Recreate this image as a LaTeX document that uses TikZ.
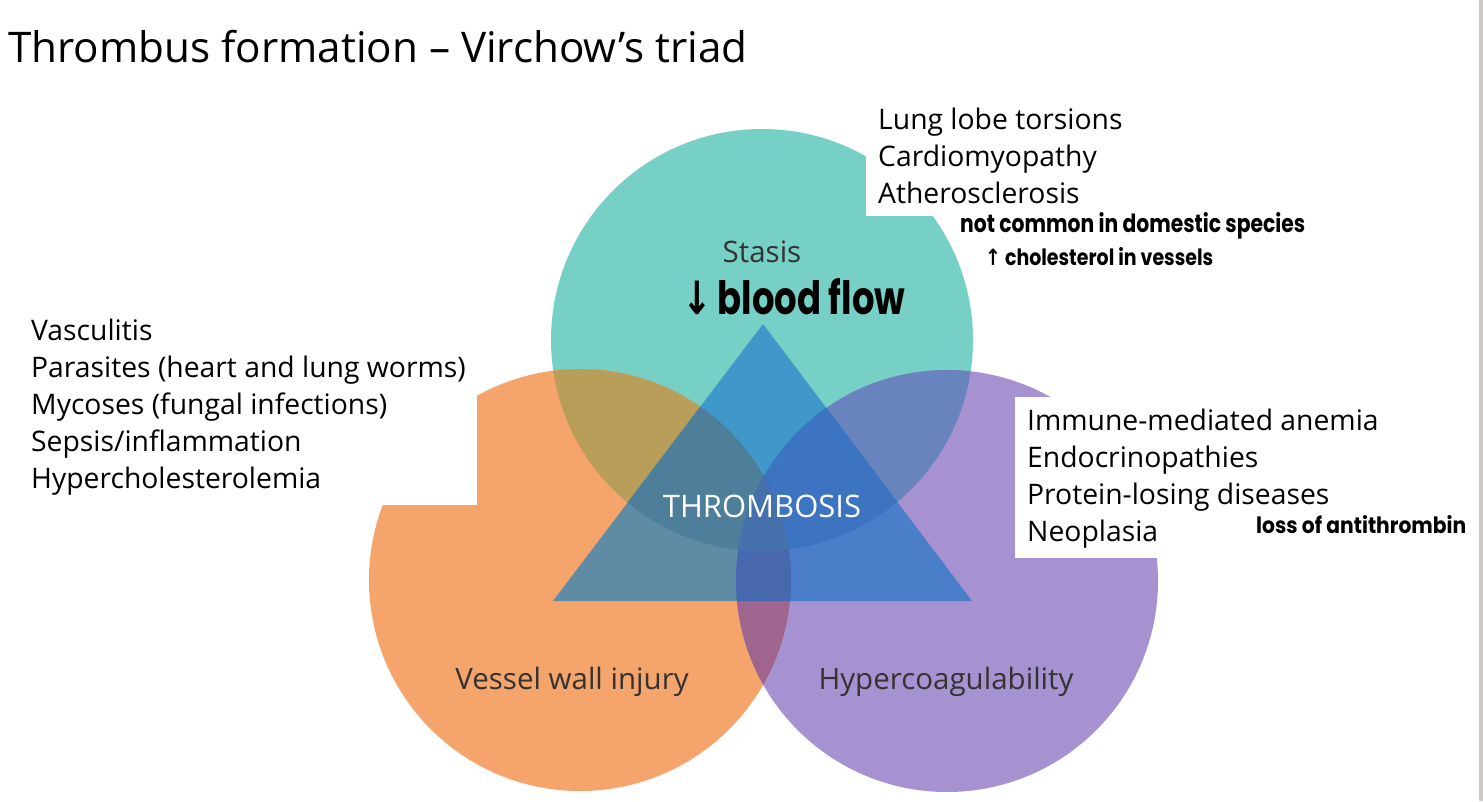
\documentclass[tikz,border=0pt]{standalone}
\usepackage{fontspec}
\usepackage{graphicx}
\setmainfont{Open Sans}
\newfontfamily\handfont{Poppins}
\newfontfamily\symfont{DejaVu Sans}
\definecolor{cteal}{HTML}{76D0C6}
\definecolor{corange}{HTML}{F5A46C}
\definecolor{cpurple}{HTML}{A692D0}
\definecolor{cTO}{HTML}{B99E5A}
\definecolor{cTP}{HTML}{6883BE}
\definecolor{cOP}{HTML}{A0658F}
\definecolor{cTOP}{HTML}{8A7A8A}
\definecolor{tT}{HTML}{3F97CA}
\definecolor{tO}{HTML}{5F8BA5}
\definecolor{tP}{HTML}{4A7EC8}
\definecolor{tTO}{HTML}{4D7F9B}
\definecolor{tTP}{HTML}{3C74C1}
\definecolor{tOP}{HTML}{4869B0}
\definecolor{tTOP}{HTML}{4470AC}
\definecolor{labelgrey}{HTML}{333333}
\definecolor{edgegrey}{HTML}{CDCBC6}
\newcommand\fitwh[3]{\resizebox{#1}{#2}{#3}}
\begin{document}
\begin{tikzpicture}[x=1pt,y=-1pt,
  listtext/.style={anchor=base west,inner sep=0pt,font=\fontsize{28.3}{34}\selectfont},
  circlabel/.style={anchor=base,inner sep=0pt,text=labelgrey,font=\fontsize{29.5}{35}\selectfont},
  hand/.style={anchor=base west,inner sep=0pt,text=black,font=\handfont\bfseries}]
\def\cT{(762,340) circle[radius=211pt]}
\def\cO{(580,580) circle[radius=211pt]}
\def\cP{(947,581) circle[radius=211pt]}
\def\tri{(763,324) -- (972,601) -- (553,601) -- cycle}
\useasboundingbox (0,0) rectangle (1483,801);
\fill[white] (0,0) rectangle (1483,801);
% circles
\fill[cteal] \cT;
\fill[corange] \cO;
\fill[cpurple] \cP;
\begin{scope}\clip \cT; \fill[cTO] \cO; \fill[cTP] \cP; \end{scope}
\begin{scope}\clip \cO; \fill[cOP] \cP; \clip \cT; \fill[cTOP] \cP; \end{scope}
% triangle
\begin{scope}
  \clip \tri;
  \fill[tT] \cT; \fill[tO] \cO; \fill[tP] \cP;
  \begin{scope}\clip \cT; \fill[tTO] \cO; \fill[tTP] \cP; \end{scope}
  \begin{scope}\clip \cO; \fill[tOP] \cP; \clip \cT; \fill[tTOP] \cP; \end{scope}
\end{scope}
% white text boxes
\fill[white] (866,98) rectangle (1135,216);
\fill[white] (0,300) rectangle (477,505);
\fill[white] (1015,397) rectangle (1345,558);
% right edge line
\fill[edgegrey] (1479,0) rectangle (1483,801);
% title
\node[anchor=base west,inner sep=0pt,font=\fontsize{42.2}{50}\selectfont] (title) at (8,62) {Thrombus formation – Virchow’s triad};
% circle labels
\node[circlabel] (stasis) at (762,262) {Stasis};
\node[circlabel] (vessel) at (572,689) {Vessel wall injury};
\node[circlabel] (hyper) at (946,689) {Hypercoagulability};
\node[circlabel,text=white,font=\fontsize{31}{36}\selectfont] (thrombosis) at (762,517) {THROMBOSIS};
% lists
\node[listtext] (s1) at (878,129) {Lung lobe torsions};
\node[listtext] (s2) at (878,166) {Cardiomyopathy};
\node[listtext] (s3) at (878,203) {Atherosclerosis};
\node[listtext] (v1) at (31,340) {Vasculitis};
\node[listtext] (v2) at (31,377) {Parasites (heart and lung worms)};
\node[listtext] (v3) at (31,414) {Mycoses (fungal infections)};
\node[listtext] (v4) at (31,451) {Sepsis/inflammation};
\node[listtext] (v5) at (31,488) {Hypercholesterolemia};
\node[listtext] (h1) at (1027,430) {Immune-mediated anemia};
\node[listtext] (h2) at (1027,467) {Endocrinopathies};
\node[listtext] (h3) at (1027,504) {Protein-losing diseases};
\node[listtext] (h4) at (1027,541) {Neoplasia};
% handwritten notes
\node[hand] (flow) at (682,314) {\fitwh{223pt}{36pt}{{\symfont\bfseries ↓}\,blood flow}};
\node[hand] (note1) at (960,232) {\fitwh{345pt}{20pt}{not common in domestic species}};
\node[hand] (note2) at (985,265) {\fitwh{228pt}{18pt}{{\symfont\bfseries ↑} cholesterol in vessels}};
\node[hand] (note3) at (1256,533) {\fitwh{210pt}{18pt}{loss of antithrombin}};
\end{tikzpicture}
\end{document}
